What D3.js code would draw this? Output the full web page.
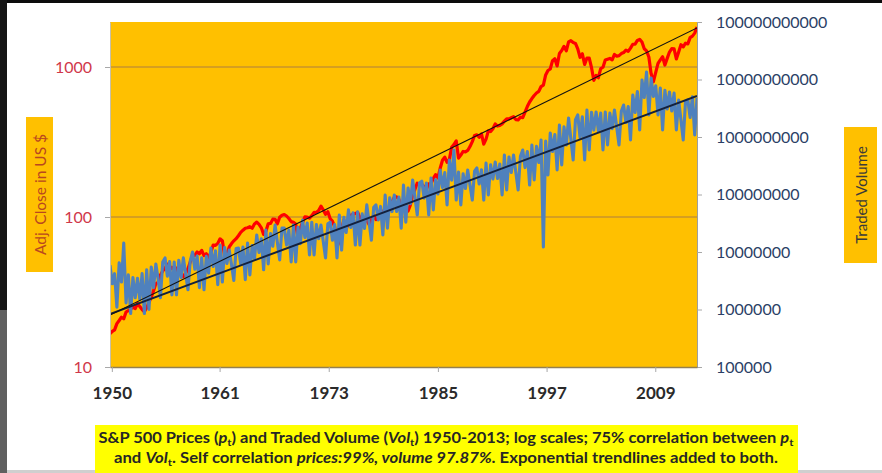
<!DOCTYPE html>
<html>
<head>
<meta charset="utf-8">
<script src="https://cdn.jsdelivr.net/npm/d3@7"></script>
<style>
  html, body { margin: 0; padding: 0; background: #ffffff; }
  svg { display: block; }
</style>
</head>
<body>
<svg id="chart" width="882" height="473"></svg>
<script>
// S&P 500 close, first value Jan 1950, then quarter-end closes (step 0.25 yr)
const priceStartYear = 1950;
const priceStepYears = 0.25;
const priceClose = [
  16.66,
  17.29, 17.69, 19.45, 20.41,   // 1950
  21.48, 20.96, 23.26, 23.77,   // 1951
  24.37, 24.96, 24.54, 26.57,   // 1952
  25.29, 24.14, 23.35, 24.81,   // 1953
  26.94, 29.21, 32.31, 35.98,   // 1954
  36.58, 41.03, 43.67, 45.48,   // 1955
  48.48, 46.97, 45.35, 46.67,   // 1956
  44.11, 47.37, 42.42, 39.99,   // 1957
  42.10, 45.24, 50.06, 55.21,   // 1958
  55.44, 58.47, 56.88, 59.89,   // 1959
  55.34, 56.92, 53.52, 58.11,   // 1960
  65.06, 64.64, 66.73, 71.55,   // 1961
  69.55, 54.75, 56.27, 63.10,   // 1962
  66.57, 69.37, 71.70, 75.02,   // 1963
  78.98, 81.69, 84.18, 84.75,   // 1964
  86.16, 84.12, 89.96, 92.43,   // 1965
  89.23, 84.74, 76.56, 80.33,   // 1966
  90.20, 90.64, 96.71, 96.47,   // 1967
  90.20, 99.58, 102.67, 103.86, // 1968
  101.51, 97.71, 93.12, 92.06,  // 1969
  89.63, 72.72, 84.21, 92.15,   // 1970
  100.31, 99.70, 98.34, 102.09, // 1971
  107.20, 107.14, 110.55, 118.05, // 1972
  111.52, 104.26, 108.43, 97.55,  // 1973
  93.98, 86.00, 63.54, 68.56,   // 1974
  83.36, 95.19, 83.87, 90.19,   // 1975
  102.77, 104.28, 105.24, 107.46, // 1976
  98.42, 100.48, 96.53, 95.10,  // 1977
  89.21, 95.53, 102.54, 96.11,  // 1978
  101.59, 102.91, 109.32, 107.94, // 1979
  102.09, 114.24, 125.46, 135.76, // 1980
  136.00, 131.21, 116.18, 122.55, // 1981
  111.96, 109.61, 120.42, 140.64, // 1982
  152.96, 168.11, 166.07, 164.93, // 1983
  159.18, 153.18, 166.10, 167.24, // 1984
  180.66, 191.85, 182.08, 211.28, // 1985
  238.90, 250.84, 231.32, 242.17, // 1986
  291.70, 304.00, 321.83, 247.08, // 1987
  258.89, 273.50, 271.91, 277.72, // 1988
  294.87, 317.98, 349.15, 353.40, // 1989
  339.94, 358.02, 306.05, 330.22, // 1990
  375.22, 371.16, 387.86, 417.09, // 1991
  403.69, 408.14, 417.80, 435.71, // 1992
  451.67, 450.53, 458.93, 466.45, // 1993
  445.77, 444.27, 462.69, 459.27, // 1994
  500.71, 544.75, 584.41, 615.93, // 1995
  645.50, 670.63, 687.33, 740.74, // 1996
  757.12, 885.14, 947.28, 970.43, // 1997
  1101.75, 1133.84, 1017.01, 1229.23, // 1998
  1286.37, 1372.71, 1282.71, 1469.25, // 1999
  1498.58, 1454.60, 1436.51, 1320.28, // 2000
  1160.33, 1224.42, 1040.94, 1148.08, // 2001
  1147.39, 989.82, 815.28, 879.82,    // 2002
  848.18, 974.50, 995.97, 1111.92,    // 2003
  1126.21, 1140.84, 1114.58, 1211.92, // 2004
  1180.59, 1191.33, 1228.81, 1248.29, // 2005
  1294.83, 1270.20, 1335.85, 1418.30, // 2006
  1420.86, 1503.35, 1526.75, 1468.36, // 2007
  1322.70, 1280.00, 1166.36, 903.25,  // 2008
  797.87, 919.32, 1057.08, 1115.10,   // 2009
  1169.43, 1030.71, 1141.20, 1257.64, // 2010
  1325.83, 1320.64, 1131.42, 1257.60, // 2011
  1408.47, 1362.16, 1440.67, 1426.19, // 2012
  1569.19, 1606.28, 1681.55, 1848.36  // 2013
];

// Daily traded volume (millions of shares): quarterly peaks and troughs from Jan 1950
const volumeStartYear = 1950;
const volumeStepYears = 0.25;
const volumeMillions = [
  5.9, 2.8, 4.2, 1.1,         // 1950
  6.5, 3.0, 14.3, 1.3,        // 1951
  4.0, 0.85, 3.6, 1.6,        // 1952
  3.5, 1.5, 4.2, 0.85,        // 1953
  4.9, 1.0, 5.5, 2.4,         // 1954
  6.2, 3.4, 1.6, 6.7,         // 1955
  7.9, 3.8, 6.8, 1.8,         // 1956
  6.7, 1.8, 7.2, 3.6,         // 1957
  7.9, 4.2, 2.2, 7.0,         // 1958
  10.0, 5.0, 8.5, 2.4,        // 1959
  7.9, 2.2, 8.4, 4.3,         // 1960
  11.7, 5.6, 10.5, 2.7,       // 1961
  13.2, 3.0, 12.0, 6.3,       // 1962
  10.8, 6.0, 3.2, 11.5,       // 1963
  11.7, 6.2, 12.2, 3.3,       // 1964
  14.3, 4.0, 13.0, 7.6,       // 1965
  19.8, 9.8, 17.0, 4.9,       // 1966
  24.0, 6.2, 21.0, 12.6,      // 1967
  29.5, 14.6, 7.3, 26.0,      // 1968
  26.0, 13.2, 24.0, 6.7,      // 1969
  29.5, 6.7, 27.0, 14.0,      // 1970
  36.0, 17.9, 32.0, 8.9,      // 1971
  33.0, 8.9, 30.0, 17.0,      // 1972
  29.5, 15.3, 7.9, 31.0,      // 1973
  33.0, 16.0, 30.0, 7.9,      // 1974
  44.0, 10.8, 40.0, 21.8,     // 1975
  54.0, 26.7, 48.0, 13.2,     // 1976
  50.0, 13.2, 46.0, 25.7,     // 1977
  66.0, 32.5, 16.0, 60.0,     // 1978
  66.0, 36.1, 62.0, 19.8,     // 1979
  98.0, 26.0, 88.0, 50.5,     // 1980
  98.0, 50.5, 90.0, 26.0,     // 1981
  146.0, 33.0, 130.0, 69.4,   // 1982
  179.0, 88.7, 44.0, 160.0,   // 1983
  170.0, 86.5, 158.0, 44.0,   // 1984
  194.0, 54.0, 180.0, 102.0,  // 1985
  267.0, 132.0, 240.0, 66.0,  // 1986
  398.0, 178.0, 594.0, 80.0,  // 1987
  246.0, 66.0, 230.0, 127.0,  // 1988
  267.0, 146.0, 80.0, 255.0,  // 1989
  289.0, 152.0, 270.0, 80.0,  // 1990
  353.0, 98.0, 330.0, 186.0,  // 1991
  367.0, 190.0, 340.0, 98.0,  // 1992
  486.0, 120.0, 450.0, 241.0, // 1993
  486.0, 241.0, 120.0, 460.0, // 1994
  594.0, 294.0, 560.0, 146.0, // 1995
  726.0, 179.0, 690.0, 360.0, // 1996
  887.0, 12.2, 850.0, 218.0,  // 1997
  1175.0, 560.0, 1100.0, 267.0,   // 1998
  1618.0, 326.0, 1500.0, 726.0,   // 1999
  2140.0, 920.0, 398.0, 2000.0,   // 2000
  2415.0, 980.0, 2250.0, 398.0,   // 2001
  2950.0, 594.0, 2700.0, 1320.0,  // 2002
  2720.0, 1270.0, 2600.0, 594.0,  // 2003
  2720.0, 726.0, 2600.0, 1400.0,  // 2004
  2950.0, 1460.0, 726.0, 2800.0,  // 2005
  3600.0, 1790.0, 3400.0, 887.0,  // 2006
  5370.0, 2670.0, 6200.0, 1324.0, // 2007
  9800.0, 4860.0, 13500.0, 2415.0, // 2008
  10600.0, 5060.0, 7800.0, 2415.0, // 2009
  7100.0, 1324.0, 6500.0, 3070.0, // 2010
  6060.0, 2830.0, 5800.0, 1324.0, // 2011
  4400.0, 1980.0, 887.0, 4200.0,  // 2012
  4400.0, 2180.0, 5000.0, 1084.0, // 2013
  4800.0
];

// Exponential trendlines (start / end values)
const priceTrend = [{ year: 1950, value: 22.2 }, { year: 2014, value: 1820 }];
const volumeTrend = [{ year: 1950, value: 8.36e5 }, { year: 2014, value: 5.16e9 }];

// Axis ticks
const priceTicks = [10, 100, 1000];
const priceGrid = [100, 1000];
const volumeTicks = [1e5, 1e6, 1e7, 1e8, 1e9, 1e10, 1e11];
const xTickDates = [1950.2, 1961.95, 1973.85, 1985.75, 1997.6, 2009.45];
const xTickLabels = ["1950", "1961", "1973", "1985", "1997", "2009"];

const W = 882, H = 473;
const plot = { left: 110, right: 697, top: 22, bottom: 367 };
const FONT = "Lato, 'Open Sans', sans-serif";

const svg = d3.select("#chart");

// Window frame edges
svg.append("rect").attr("x", 0).attr("y", 0).attr("width", W).attr("height", H).attr("fill", "#ffffff");
svg.append("rect").attr("x", 0).attr("y", 470).attr("width", W).attr("height", 3).attr("fill", "#cfcfcf");
svg.append("rect").attr("x", 0).attr("y", 0).attr("width", W).attr("height", 3).attr("fill", "#0c0c0c");
svg.append("rect").attr("x", 0).attr("y", 0).attr("width", 7).attr("height", 310).attr("fill", "#151515");
svg.append("rect").attr("x", 0).attr("y", 310).attr("width", 7).attr("height", 163).attr("fill", "#606060");

// Scales
const x = d3.scaleLinear().domain([1950, 2014]).range([plot.left, plot.right]);
const yPrice = d3.scaleLog().domain([10, Math.pow(10, 3.3)]).range([plot.bottom, plot.top]);
const yVol = d3.scaleLog().domain([1e5, 1e11]).range([plot.bottom, plot.top]);

// Plot area
svg.append("rect")
  .attr("x", plot.left).attr("y", plot.top)
  .attr("width", plot.right - plot.left).attr("height", plot.bottom - plot.top)
  .attr("fill", "#FFC000");

svg.append("defs").append("clipPath").attr("id", "plotClip")
  .append("rect")
  .attr("x", plot.left).attr("y", plot.top)
  .attr("width", plot.right - plot.left).attr("height", plot.bottom - plot.top);

// Gridlines on the price axis
svg.append("g").selectAll("line").data(priceGrid).join("line")
  .attr("x1", plot.left).attr("x2", plot.right)
  .attr("y1", d => yPrice(d)).attr("y2", d => yPrice(d))
  .attr("stroke", "#C9952B").attr("stroke-width", 1.5);

const marks = svg.append("g").attr("clip-path", "url(#plotClip)");

// Price line
const priceLine = d3.line()
  .x((d, i) => x(priceStartYear + i * priceStepYears))
  .y(d => yPrice(d));
marks.append("path").datum(priceClose)
  .attr("d", priceLine)
  .attr("fill", "none").attr("stroke", "#FF0000")
  .attr("stroke-width", 3.2).attr("stroke-linejoin", "round");

// Volume line
const volLine = d3.line()
  .x((d, i) => x(volumeStartYear + i * volumeStepYears))
  .y(d => yVol(d * 1e6));
marks.append("path").datum(volumeMillions)
  .attr("d", volLine)
  .attr("fill", "none").attr("stroke", "#4F81BD")
  .attr("stroke-width", 3.1).attr("stroke-linejoin", "round");

// Trendlines
marks.append("path").datum(volumeTrend)
  .attr("d", d3.line().x(d => x(d.year)).y(d => yVol(d.value)))
  .attr("fill", "none").attr("stroke", "#14213D").attr("stroke-width", 2);
marks.append("path").datum(priceTrend)
  .attr("d", d3.line().x(d => x(d.year)).y(d => yPrice(d.value)))
  .attr("fill", "none").attr("stroke", "#111111").attr("stroke-width", 1.1);

// Left axis (price)
const leftAxis = svg.append("g")
  .attr("transform", `translate(${plot.left},0)`)
  .call(d3.axisLeft(yPrice).tickValues(priceTicks).tickFormat(d3.format("d"))
    .tickSize(5).tickSizeOuter(0).tickPadding(13));
leftAxis.select(".domain").attr("stroke", "#C8C0A8");
leftAxis.selectAll(".tick line").attr("stroke", "#A8A8A8");
leftAxis.selectAll(".tick text")
  .attr("fill", "#D0384A").attr("font-family", FONT).attr("font-size", 16);

// Right axis (volume)
const rightAxis = svg.append("g")
  .attr("transform", `translate(${plot.right},0)`)
  .call(d3.axisRight(yVol).tickValues(volumeTicks).tickFormat(d3.format("d"))
    .tickSize(5).tickSizeOuter(0).tickPadding(14));
rightAxis.select(".domain").attr("stroke", "#9E9E9E");
rightAxis.selectAll(".tick line").attr("stroke", "#A8A8A8");
rightAxis.selectAll(".tick text")
  .attr("fill", "#2B3F66").attr("font-family", FONT).attr("font-size", 16);

// Bottom axis (years)
const bottomAxis = svg.append("g")
  .attr("transform", `translate(0,${plot.bottom})`)
  .call(d3.axisBottom(x).tickValues(xTickDates)
    .tickFormat((d, i) => xTickLabels[i])
    .tickSize(5).tickSizeOuter(0).tickPadding(15));
bottomAxis.select(".domain").attr("stroke", "#94804F").attr("stroke-width", 1.6);
bottomAxis.selectAll(".tick line").attr("stroke", "#A8A8A8");
bottomAxis.selectAll(".tick text")
  .attr("fill", "#2a2a2a").attr("font-family", FONT)
  .attr("font-weight", "bold").attr("font-size", 17);

// Axis titles
svg.append("rect").attr("x", 26).attr("y", 117).attr("width", 27).attr("height", 155).attr("fill", "#FFC000");
svg.append("text")
  .attr("transform", "translate(40,194.5) rotate(-90)")
  .attr("text-anchor", "middle").attr("dominant-baseline", "central")
  .attr("font-family", FONT).attr("font-size", 15.5)
  .attr("fill", "#B9471F")
  .text("Adj. Close in US $");

svg.append("rect").attr("x", 844).attr("y", 127).attr("width", 33).attr("height", 136).attr("fill", "#FFC000");
svg.append("text")
  .attr("transform", "translate(860.5,195) rotate(-90)")
  .attr("text-anchor", "middle").attr("dominant-baseline", "central")
  .attr("font-family", FONT).attr("font-size", 15)
  .attr("fill", "#3a3a3a")
  .text("Traded Volume");

// Caption
svg.append("rect").attr("x", 95).attr("y", 425).attr("width", 703).attr("height", 48).attr("fill", "#FFFF00");

const captionLines = [
  [["S&P 500 Prices (", "n"], ["p", "i"], ["t", "s"], [") and Traded Volume (", "n"], ["Vol", "i"], ["t", "s"],
   [") 1950-2013; log scales; 75% correlation between ", "n"], ["p", "i"], ["t", "s"]],
  [["and ", "n"], ["Vol", "i"], ["t", "s"], [". Self correlation ", "n"], ["prices:99%, volume 97.87%", "i"],
   [". Exponential trendlines added to both.", "n"]]
];
const captionY = [443, 463];
const captionWidth = [695, 664];

captionLines.forEach((parts, li) => {
  const t = svg.append("text")
    .attr("x", 446).attr("y", captionY[li])
    .attr("text-anchor", "middle")
    .attr("font-family", FONT)
    .attr("font-weight", "bold").attr("font-size", 14.5)
    .attr("fill", "#262626")
    .attr("textLength", captionWidth[li])
    .attr("lengthAdjust", "spacingAndGlyphs");
  let shifted = false;
  parts.forEach(([str, kind]) => {
    const ts = t.append("tspan").text(str);
    if (kind === "i") ts.attr("font-style", "italic");
    if (kind === "s") {
      ts.attr("font-size", 10).attr("dy", 3);
      shifted = true;
    } else if (shifted) {
      ts.attr("dy", -3);
      shifted = false;
    }
  });
});
</script>
</body>
</html>
